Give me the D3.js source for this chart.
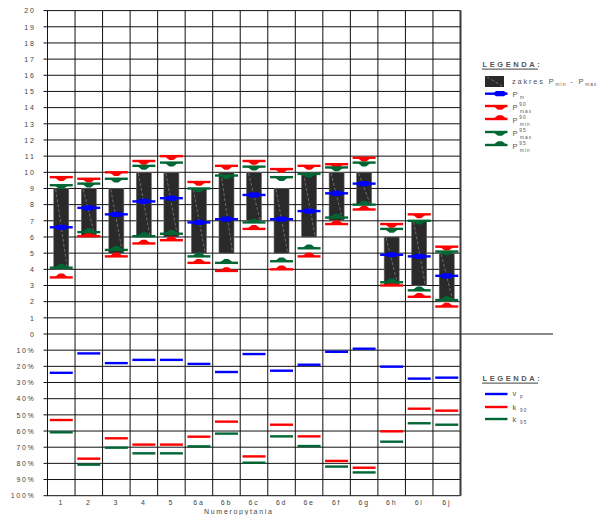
<!DOCTYPE html>
<html>
<head>
<meta charset="utf-8">
<script src="https://cdn.jsdelivr.net/npm/d3@7"></script>
<style>
  html, body { margin: 0; padding: 0; background: #fff; }
  svg { display: block; font-family: "Liberation Sans", Arial, sans-serif; }
</style>
</head>
<body>
<svg id="chart" width="604" height="515"></svg>
<script>
// Question labels
const categories = ["1","2","3","4","5","6a","6b","6c","6d","6e","6f","6g","6h","6i","6j"];

// Upper panel: score range and interval limits
const pMin   = [4, 6, 5, 6, 6, 5, 5, 7, 5, 6, 7, 8, 3, 3, 2];
const pMax   = [9, 9, 9, 10, 10, 9, 10, 10, 9, 10, 10, 10, 6, 7, 5];
const pMean  = [6.6, 7.8, 7.4, 8.2, 8.4, 6.9, 7.1, 8.6, 7.1, 7.6, 8.7, 9.3, 4.9, 4.8, 3.6];
const pMax90 = [9.7, 9.6, 10.0, 10.7, 11.0, 9.4, 10.4, 10.7, 10.2, 10.4, 10.5, 10.9, 6.8, 7.4, 5.4];
const pMin90 = [3.5, 6.05, 4.8, 5.6, 5.8, 4.4, 3.9, 6.5, 4.0, 4.8, 6.8, 7.7, 3.0, 2.3, 1.7];
const pMax95 = [9.2, 9.3, 9.6, 10.4, 10.6, 9.0, 9.8, 10.35, 9.7, 9.9, 10.3, 10.6, 6.5, 7.0, 5.1];
const pMin95 = [4.1, 6.3, 5.2, 6.05, 6.2, 4.8, 4.4, 6.9, 4.5, 5.3, 7.2, 8.0, 3.2, 2.7, 2.1];

// Lower panel: percentages
const vp  = [24, 12, 18, 16, 16, 18.5, 23.5, 12.4, 22.7, 19, 11, 9.1, 20.2, 27.6, 27];
const k90 = [53.2, 77.1, 64.5, 68.4, 68.4, 63.5, 54.2, 75.7, 56.1, 63.3, 78.5, 82.7, 60.2, 46.2, 47.4];
const k95 = [60.8, 80.8, 70.3, 73.8, 73.8, 69.5, 61.6, 79.6, 63.3, 69.3, 82, 85.6, 66.6, 55.2, 56.1];

// Axis tick values
const topTicks = d3.range(0, 21);
const bottomTicks = d3.range(10, 101, 10);
const xTitle = "Numeropytania";

const C_BLUE = "#0000ff", C_RED = "#ff0000", C_GREEN = "#006633";
const C_BAR = "#2a2a2a", C_GRID = "#111", C_TEXT = "#444";

const svg = d3.select("#chart");

const X0 = 47.5, X1 = 460.5;
const Y_ZERO = 334, Y_TOP = 10.6, Y_BOT = 495.7;

const x = d3.scaleBand().domain(categories).range([X0, X1]).padding(0);
const yTop = d3.scaleLinear().domain([0, 20]).range([Y_ZERO, Y_TOP]);
const yBot = d3.scaleLinear().domain([0, 100]).range([Y_ZERO, Y_BOT]);
const bw = x.bandwidth();
const cx = c => x(c) + bw / 2;

// ---- grid ----
const grid = svg.append("g").attr("stroke", C_GRID).attr("stroke-width", 1);
topTicks.filter(d => d > 0).forEach(d => {
  grid.append("line").attr("x1", X0 - 4).attr("x2", X1).attr("y1", yTop(d)).attr("y2", yTop(d));
});
bottomTicks.forEach(d => {
  grid.append("line").attr("x1", X0 - 4).attr("x2", X1).attr("y1", yBot(d)).attr("y2", yBot(d));
});
// zero line runs out under the legends
grid.append("line").attr("x1", X0 - 4).attr("x2", 553).attr("y1", Y_ZERO).attr("y2", Y_ZERO);
categories.forEach(c => {
  grid.append("line").attr("x1", x(c)).attr("x2", x(c)).attr("y1", Y_TOP).attr("y2", Y_BOT);
});
svg.append("line").attr("x1", X1).attr("x2", X1).attr("y1", Y_TOP).attr("y2", Y_BOT)
  .attr("stroke", "#3a3a3a").attr("stroke-width", 2);

// ---- axes labels ----
const styleAxis = g => {
  g.select(".domain").remove();
  g.selectAll(".tick line").remove();
  g.selectAll("text").attr("fill", C_TEXT).attr("font-size", 7)
    .attr("font-family", "Liberation Sans, Arial, sans-serif")
    .attr("letter-spacing", "1.7px");
};
svg.append("g").attr("transform", `translate(${X0},0)`)
  .call(d3.axisLeft(yTop).tickValues(topTicks).tickSize(0).tickPadding(12).tickFormat(d => String(d)))
  .call(styleAxis);
svg.append("g").attr("transform", `translate(${X0},0)`)
  .call(d3.axisLeft(yBot).tickValues(bottomTicks).tickSize(0).tickPadding(12).tickFormat(d => d + "%"))
  .call(styleAxis);
svg.append("g").attr("transform", `translate(0,${Y_BOT})`)
  .call(d3.axisBottom(x).tickSize(0).tickPadding(4))
  .call(styleAxis);
svg.append("text").attr("x", 204).attr("y", 514).attr("font-size", 7)
  .attr("letter-spacing", "1.7px").attr("fill", C_TEXT).text(xTitle);

// ---- range bars ----
const BAR_W = 15;
const bars = svg.append("g");
categories.forEach((c, i) => {
  const x0 = cx(c) - BAR_W / 2, y0 = yTop(pMax[i]), y1 = yTop(pMin[i]);
  bars.append("rect").attr("x", x0).attr("y", y0).attr("width", BAR_W).attr("height", y1 - y0)
    .attr("fill", C_BAR).attr("stroke", "#666").attr("stroke-width", 0.6);
  bars.append("line").attr("x1", x0 + 2).attr("y1", y0 + 1).attr("x2", x0 + BAR_W - 1.5).attr("y2", y1 - 1)
    .attr("stroke", "#8a8a8a").attr("stroke-width", 0.7).attr("stroke-dasharray", "3,2");
});

// ---- markers ----
const HALF = 11.5;
function markerLine(g, xc, y, color) {
  g.append("line").attr("x1", xc - HALF).attr("x2", xc + HALF).attr("y1", y).attr("y2", y)
    .attr("stroke", color).attr("stroke-width", 2.4);
}
function tri(g, xc, y, color, dir) {
  // dir = 1: pointing down below the line, -1: pointing up above the line
  g.append("path")
    .attr("d", `M${xc - 7},${y} L${xc + 7},${y} L${xc + 2},${y + dir * 3.8} L${xc - 2},${y + dir * 3.8} Z`)
    .attr("fill", color);
}
function meanMark(g, xc, y, color) {
  g.append("path")
    .attr("d", `M${xc - 7},${y} L${xc - 4},${y - 2.6} L${xc + 4},${y - 2.6} L${xc + 7},${y} L${xc + 4},${y + 2.6} L${xc - 4},${y + 2.6} Z`)
    .attr("fill", color);
}

const marks = svg.append("g");
categories.forEach((c, i) => {
  const xc = cx(c);
  markerLine(marks, xc, yTop(pMax90[i]), C_RED);   tri(marks, xc, yTop(pMax90[i]), C_RED, 1);
  markerLine(marks, xc, yTop(pMax95[i]), C_GREEN); tri(marks, xc, yTop(pMax95[i]), C_GREEN, 1);
  markerLine(marks, xc, yTop(pMin90[i]), C_RED);   tri(marks, xc, yTop(pMin90[i]), C_RED, -1);
  markerLine(marks, xc, yTop(pMin95[i]), C_GREEN); tri(marks, xc, yTop(pMin95[i]), C_GREEN, -1);
  markerLine(marks, xc, yTop(pMean[i]), C_BLUE);   meanMark(marks, xc, yTop(pMean[i]), C_BLUE);

  markerLine(marks, xc, yBot(vp[i]), C_BLUE);
  markerLine(marks, xc, yBot(k90[i]), C_RED);
  markerLine(marks, xc, yBot(k95[i]), C_GREEN);
});

// ---- legends ----
function legendTitle(y) {
  svg.append("text").attr("x", 482.5).attr("y", y).attr("font-size", 7.5).attr("font-weight", "bold")
    .attr("letter-spacing", "2.6px").attr("fill", "#555").text("LEGENDA:");
  svg.append("line").attr("x1", 482).attr("x2", 538).attr("y1", y + 2.6).attr("y2", y + 2.6)
    .attr("stroke", "#666").attr("stroke-width", 1.3);
}
function legendText(xp, y, main, sup, sub) {
  const t = svg.append("text").attr("x", xp).attr("y", y).attr("font-size", 7.5)
    .attr("letter-spacing", "1.8px").attr("fill", "#555");
  t.append("tspan").text(main);
  if (sup) t.append("tspan").attr("font-size", 4.8).attr("dy", -3.2).attr("letter-spacing", "1px").text(sup);
  if (sub) {
    t.append("tspan").attr("font-size", 4.8).attr("x", xp + 7.5).attr("dy", sup ? 6.6 : 2.2)
      .attr("letter-spacing", "1px").text(sub);
  }
}

legendTitle(66.5);
const lg = svg.append("g");
lg.append("rect").attr("x", 485).attr("y", 76).attr("width", 19).attr("height", 11).attr("fill", C_BAR);
lg.append("line").attr("x1", 487).attr("y1", 77).attr("x2", 502).attr("y2", 86)
  .attr("stroke", "#8a8a8a").attr("stroke-width", 0.7).attr("stroke-dasharray", "3,2");
{
  const t = svg.append("text").attr("x", 512).attr("y", 84).attr("font-size", 7.5)
    .attr("letter-spacing", "1.8px").attr("fill", "#555");
  t.append("tspan").text("zakres P");
  t.append("tspan").attr("font-size", 4.8).attr("dy", 2).attr("letter-spacing", "1px").text("min");
  t.append("tspan").attr("dy", -2).text(" - P");
  t.append("tspan").attr("font-size", 4.8).attr("dy", 2).attr("letter-spacing", "1px").text("max");
}

const LX1 = 485, LX2 = 507.5, LXC = 500;
function legendLine(y, color) {
  lg.append("line").attr("x1", LX1).attr("x2", LX2).attr("y1", y).attr("y2", y)
    .attr("stroke", color).attr("stroke-width", 2.4);
}
legendLine(93.7, C_BLUE); meanMark(lg, LXC, 93.7, C_BLUE);
legendText(512.5, 96.5, "P", null, "m");
legendLine(106, C_RED); tri(lg, LXC, 106, C_RED, 1);
legendText(512.5, 109.5, "P", "90", "max");
legendLine(119, C_RED); tri(lg, LXC, 119, C_RED, -1);
legendText(512.5, 122.5, "P", "90", "min");
legendLine(132, C_GREEN); tri(lg, LXC, 132, C_GREEN, 1);
legendText(512.5, 135.5, "P", "95", "max");
legendLine(145, C_GREEN); tri(lg, LXC, 145, C_GREEN, -1);
legendText(512.5, 148.5, "P", "95", "min");

legendTitle(380.5);
legendLine(394, C_BLUE);
legendText(512.5, 396, "v", null, "p");
legendLine(407, C_RED);
legendText(512.5, 409.5, "k", null, "90");
legendLine(419, C_GREEN);
legendText(512.5, 421.5, "k", null, "95");
</script>
</body>
</html>
